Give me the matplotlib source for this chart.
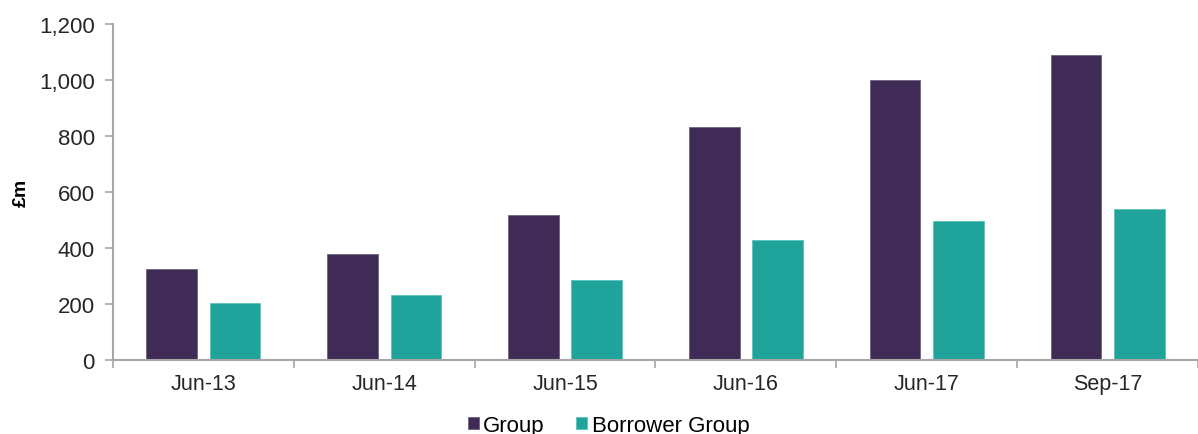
import numpy as np
import matplotlib.pyplot as plt
from matplotlib.ticker import FuncFormatter, FixedLocator

plt.rcParams['font.family'] = ['Liberation Sans', 'DejaVu Sans']

categories = ['Jun-13', 'Jun-14', 'Jun-15', 'Jun-16', 'Jun-17', 'Sep-17']
group = [325, 379, 518, 832, 1000, 1089]
borrower_group = [204, 232, 286, 429, 496, 539]

c_group = '#3F2B56'
c_borrower = '#1FA39A'
grey = '#A6A6A6'

fig = plt.figure(figsize=(11.98, 4.35), dpi=100)
ax = fig.add_axes([0.0943, 0.170, 0.9057, 0.7725])

x = np.arange(len(categories))
w = 0.28
ax.bar(x - 0.175, group, w, color=c_group, edgecolor='#6E6480', linewidth=0.6, label='Group')
ax.bar(x + 0.175, borrower_group, w, color=c_borrower, edgecolor='#5CC4BC', linewidth=0.6, label='Borrower Group')

ax.set_xlim(-0.5, len(categories) - 0.5)
ax.set_ylim(0, 1200)
ax.set_yticks(range(0, 1201, 200))
ax.yaxis.set_major_formatter(FuncFormatter(lambda v, p: f'{int(v):,}'))

ax.set_xticks(x)
ax.set_xticklabels(categories)
ax.xaxis.set_minor_locator(FixedLocator(np.arange(-0.5, len(categories), 1.0)))
ax.tick_params(axis='x', which='major', length=0, pad=9, labelsize=15.5, labelcolor='#262626')
ax.tick_params(axis='x', which='minor', length=6, color=grey, width=1.2)
ax.tick_params(axis='y', length=6, color=grey, width=1.2, labelsize=16, labelcolor='#262626', pad=7)

for s in ['top', 'right']:
    ax.spines[s].set_visible(False)
for s in ['left', 'bottom']:
    ax.spines[s].set_color(grey)
    ax.spines[s].set_linewidth(1.5)

ax.set_ylabel('£m', fontsize=14, fontweight='bold')
ax.yaxis.set_label_coords(-0.077, 0.5)

fig.legend(loc='lower center', bbox_to_anchor=(0.508, -0.05), ncol=2, frameon=False,
           fontsize=16, handlelength=0.5, handleheight=0.5, handletextpad=0.2, columnspacing=1.4)

fig.savefig('out.png', dpi=100)
